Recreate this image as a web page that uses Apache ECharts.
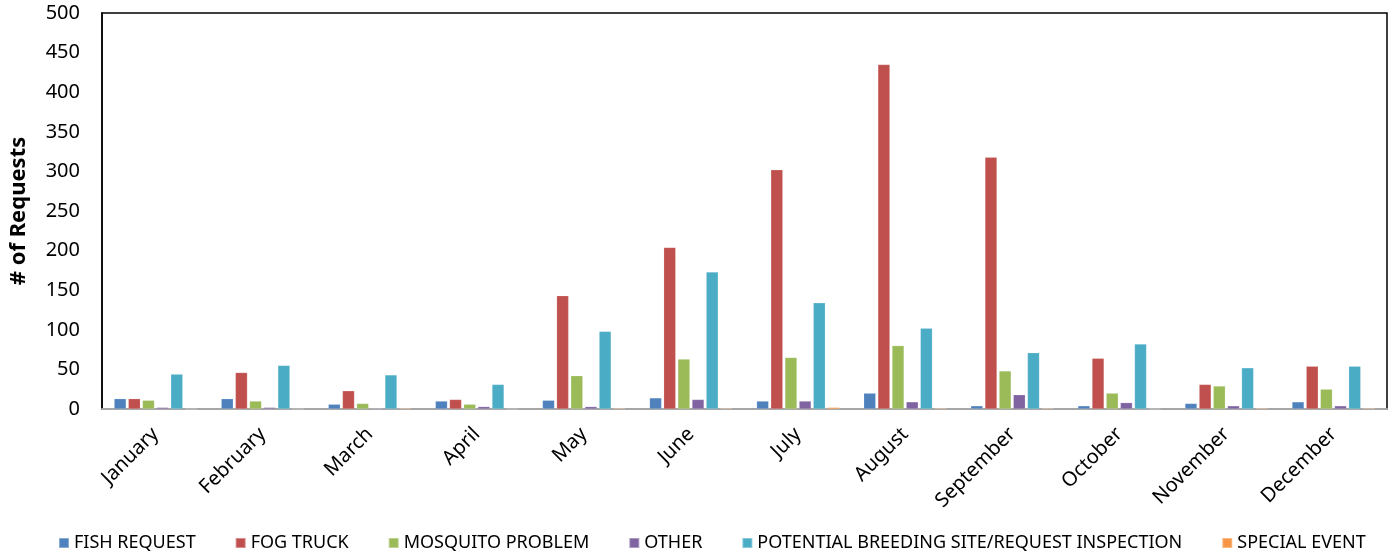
<!DOCTYPE html>
<html><head><meta charset="utf-8">
<script src="https://cdn.jsdelivr.net/npm/echarts@6/dist/echarts.min.js"></script>
<style>html,body{margin:0;padding:0;background:#fff}#c{width:1397px;height:556px}</style>
</head><body><div id="c"></div>
<script>
var months = ['January','February','March','April','May','June','July','August','September','October','November','December'];
var seriesNames = ['FISH REQUEST','FOG TRUCK','MOSQUITO PROBLEM','OTHER','POTENTIAL BREEDING SITE/REQUEST INSPECTION','SPECIAL EVENT'];
var fishRequest = [13,13,6,10,11,14,10,20,4,4,7,9];
var fogTruck = [13,46,23,12,143,204,302,435,318,64,31,54];
var mosquitoProblem = [11,10,7,6,42,63,65,80,48,20,29,25];
var other = [2,2,1,3,3,12,10,9,18,8,4,4];
var breedingSite = [44,55,43,31,98,173,134,102,71,82,52,54];
var specialEvent = [0,0,1,0,1,1,2,1,1,0,1,1];
var yTicks = [0,50,100,150,200,250,300,350,400,450,500];
var colors = ['#4F81BD','#C0504D','#9BBB59','#8064A2','#4BACC6','#F79646'];
var allData = [fishRequest, fogTruck, mosquitoProblem, other, breedingSite, specialEvent];
var font = '"Noto Sans", sans-serif';
var series = seriesNames.map(function(n,i){
  return {name:n, type:'bar', data:allData[i], barWidth:12, barGap:'18%',
    itemStyle:{color:colors[i], borderColor:'rgba(255,255,255,0.35)', borderWidth:0.5}};
});
var chart = echarts.init(document.getElementById('c'));
chart.setOption({
  animation:false,
  color:colors,
  grid:{left:100,right:10,top:13,bottom:147,show:true,borderColor:'#000',borderWidth:1.5,containLabel:false},
  legend:{top:529,left:53,itemWidth:10,itemHeight:10,itemGap:39,icon:'rect',
    textStyle:{fontFamily:font,fontSize:18,color:'#000'},data:seriesNames},
  xAxis:{type:'category',data:months,
    axisLine:{lineStyle:{color:'#a6a6a6',width:2}},axisTick:{show:false},
    axisLabel:{rotate:45,interval:0,fontFamily:font,fontSize:20,color:'#000',margin:22}},
  yAxis:{type:'value',min:0,max:500,interval:50,
    name:'# of Requests',nameLocation:'middle',nameGap:72,
    nameTextStyle:{fontFamily:font,fontSize:22,fontWeight:'bold',color:'#000'},
    axisLine:{show:true,lineStyle:{color:'#000',width:1.5}},axisTick:{show:false},
    splitLine:{show:false},
    axisLabel:{fontFamily:font,fontSize:20,color:'#000',margin:22,
      formatter:function(v){return yTicks.indexOf(v)>=0?String(v):'';}}},
  series:series
});
</script></body></html>
